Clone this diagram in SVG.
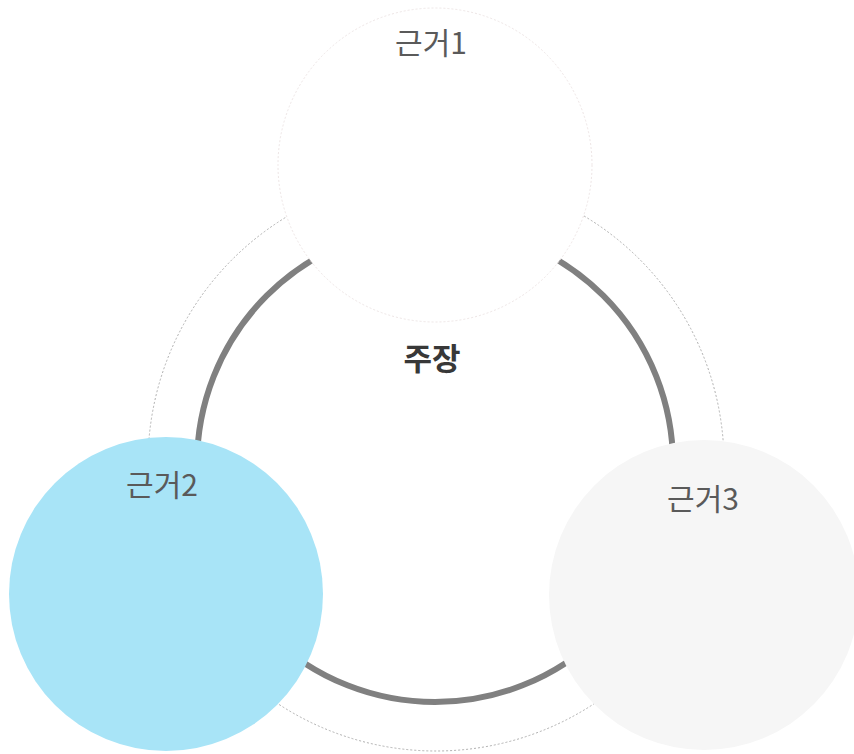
<svg xmlns="http://www.w3.org/2000/svg" width="854" height="754" viewBox="0 0 854 754">
<style>
.lbl{font-family:"Noto Sans CJK KR","Noto Sans",sans-serif;font-size:30px;fill:#5a5a5a;text-anchor:middle}
.main{font-family:"Noto Sans CJK KR","Noto Sans",sans-serif;font-size:31px;font-weight:bold;fill:#383838;text-anchor:middle}
</style>
<rect width="854" height="754" fill="#fff"/>
<g id="connectors">
<circle cx="436" cy="463" r="288" fill="none" stroke="#b0b0b0" stroke-width="1" stroke-dasharray="2 2"/>
<circle cx="435" cy="464" r="238" fill="none" stroke="#808080" stroke-width="6"/>
</g>
<g id="claim">
<text class="main" x="432" y="370">주장</text>
</g>
<g id="reason1">
<circle cx="435" cy="165" r="157" fill="#fff" stroke="#eee6e6" stroke-width="1" stroke-dasharray="2 2"/>
<text class="lbl" x="431" y="54">근거1</text>
</g>
<g id="reason2">
<circle cx="166" cy="594" r="157" fill="#a8e4f7"/>
<text class="lbl" x="162" y="496">근거2</text>
</g>
<g id="reason3">
<circle cx="704" cy="595" r="155" fill="#f6f6f6"/>
<text class="lbl" x="703" y="510">근거3</text>
</g>
</svg>
